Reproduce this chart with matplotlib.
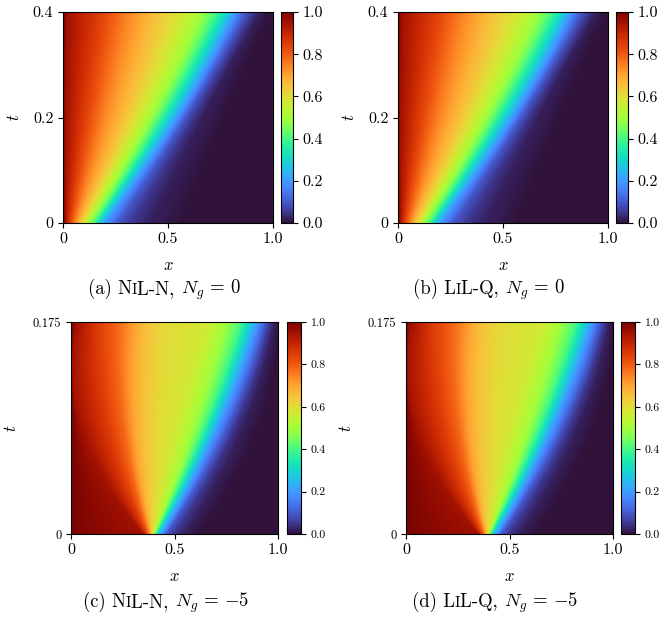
import matplotlib
matplotlib.use("Agg")
import matplotlib.pyplot as plt
from matplotlib.offsetbox import TextArea, HPacker, AnnotationBbox
import numpy as np

plt.rcParams['font.family'] = ['cmr10', 'DejaVu Serif']
plt.rcParams['mathtext.fontset'] = 'cm'
plt.rcParams['axes.unicode_minus'] = False

# top row (N_g = 0): x position of each u level, read at several times
top_levels = [1.0, 0.95, 0.85, 0.75, 0.65, 0.58, 0.5, 0.4, 0.3, 0.2, 0.1, 0.05, 0.02, 0.0]
top_times = [0.0, 0.205, 0.4]
top_x_t0 = [0.0, 0.01, 0.03, 0.055, 0.08, 0.10, 0.12, 0.15, 0.17, 0.20, 0.26, 0.33, 0.42, 0.58]
top_x_mid = [0.0, 0.012, 0.10, 0.19, 0.30, 0.36, 0.42, 0.47, 0.51, 0.55, 0.59, 0.63, 0.67, 0.78]
top_x_end = [0.0, 0.02, 0.17, 0.30, 0.45, 0.56, 0.66, 0.73, 0.78, 0.82, 0.87, 0.91, 0.94, 0.99]

# bottom row (N_g = -5)
bot_levels = [1.0, 0.95, 0.85, 0.78, 0.7, 0.65, 0.6, 0.57, 0.5, 0.4, 0.3, 0.2, 0.1, 0.05, 0.02, 0.0]
bot_times = [0.0, 0.02, 0.086, 0.175]
bot_x_t0 = [0.0, 0.35, 0.365, 0.375, 0.385, 0.39, 0.395, 0.40, 0.405, 0.41, 0.42, 0.44, 0.46, 0.50, 0.55, 0.62]
bot_x_t1 = [0.0, 0.24, 0.30, 0.33, 0.35, 0.37, 0.385, 0.395, 0.415, 0.435, 0.46, 0.49, 0.54, 0.59, 0.64, 0.72]
bot_x_t2 = [0.0, 0.06, 0.19, 0.26, 0.31, 0.36, 0.44, 0.52, 0.60, 0.65, 0.68, 0.71, 0.75, 0.78, 0.82, 0.90]
bot_x_t3 = [0.0, 0.026, 0.13, 0.23, 0.31, 0.37, 0.47, 0.66, 0.74, 0.82, 0.86, 0.90, 0.94, 0.965, 0.985, 1.01]

names = [("(a) N", "L-N, ", r"$N_g\,=\,0$"), ("(b) L", "L-Q, ", r"$N_g\,=\,0$"),
         ("(c) N", "L-N, ", r"$N_g\,=\,{-5}$"), ("(d) L", "L-Q, ", r"$N_g\,=\,{-5}$")]


def field(times, rows, levels):
    rows = np.array(rows)
    x = np.linspace(0, 1, 500)
    t = np.linspace(0, times[-1], 500)
    # smooth quadratic in t through the read positions, pinned at t = 0
    w = np.ones(len(times))
    w[0] = 4.0
    coefs = [np.polyfit(times, rows[:, k], 2, w=w) for k in range(rows.shape[1])]
    u = np.zeros((len(t), len(x)))
    for j, tj in enumerate(t):
        pos = np.array([np.polyval(c, tj) for c in coefs])
        pos[0] = 0.0
        for k in range(1, len(pos)):
            pos[k] = max(pos[k], pos[k - 1] + 1e-4)
        u[j] = np.interp(x, pos, levels)
    return u


u_top = field(top_times, [top_x_t0, top_x_mid, top_x_end], top_levels)
u_bot = field(bot_times, [bot_x_t0, bot_x_t1, bot_x_t2, bot_x_t3], bot_levels)

W, H = 667, 619
fig = plt.figure(figsize=(W / 100, H / 100), dpi=100)


def box(l, r, top, bot):
    return [l / W, 1 - bot / H, (r - l) / W, (bot - top) / H]


# pixel boxes: axes, colorbar, caption centre x, row
panels = [
    (box(63, 273, 12, 223), box(281, 293, 12, 223), 164, 0),
    (box(398, 608, 12, 223), box(616, 628, 12, 223), 489, 0),
    (box(71, 278, 322, 534), box(287, 301, 322, 534), 166, 1),
    (box(406, 613, 322, 534), box(621, 635, 322, 534), 495, 1),
]

for i, (abox, cbox, cx, row) in enumerate(panels):
    u = u_top if row == 0 else u_bot
    tmax = top_times[-1] if row == 0 else bot_times[-1]
    ax = fig.add_axes(abox)
    im = ax.imshow(u, origin='lower', extent=[0, 1, 0, tmax], aspect='auto',
                   cmap='turbo', vmin=0, vmax=1, interpolation='bilinear')
    ax.set_xticks([0, 0.5, 1.0])
    ax.set_xticklabels(["0", "0.5", "1.0"], fontsize=11.5)
    if row == 0:
        ax.set_yticks([0, 0.2, 0.4])
        ax.set_yticklabels(["0", "0.2", "0.4"], fontsize=11.5)
    else:
        ax.set_yticks([0, 0.175])
        ax.set_yticklabels(["0", "0.175"], fontsize=9)
    ax.set_xlabel(r"$x$", fontsize=12, labelpad=8)
    ax.set_ylabel(r"$t$", fontsize=12, labelpad=8 if row == 0 else 10)
    cax = fig.add_axes(cbox)
    cb = fig.colorbar(im, cax=cax)
    cb.set_ticks([0, 0.2, 0.4, 0.6, 0.8, 1.0])
    cb.set_ticklabels(["0.0", "0.2", "0.4", "0.6", "0.8", "1.0"])
    cb.ax.tick_params(labelsize=11.5 if row == 0 else 8.5)
    cb.outline.set_linewidth(0.8)

    # caption with a small-capital I
    a, b, c = names[i]
    parts = [TextArea(a, textprops=dict(fontsize=13.5)),
             TextArea("I", textprops=dict(fontsize=10.5)),
             TextArea(b, textprops=dict(fontsize=13.5)),
             TextArea(c, textprops=dict(fontsize=13.5))]
    pack = HPacker(children=parts, align="baseline", pad=0, sep=0)
    cy = 290 if row == 0 else 603
    ab = AnnotationBbox(pack, (cx / W, 1 - cy / H), xycoords='figure fraction',
                        frameon=False, box_alignment=(0.5, 0.5))
    fig.add_artist(ab)

fig.savefig("out.png", dpi=100)
